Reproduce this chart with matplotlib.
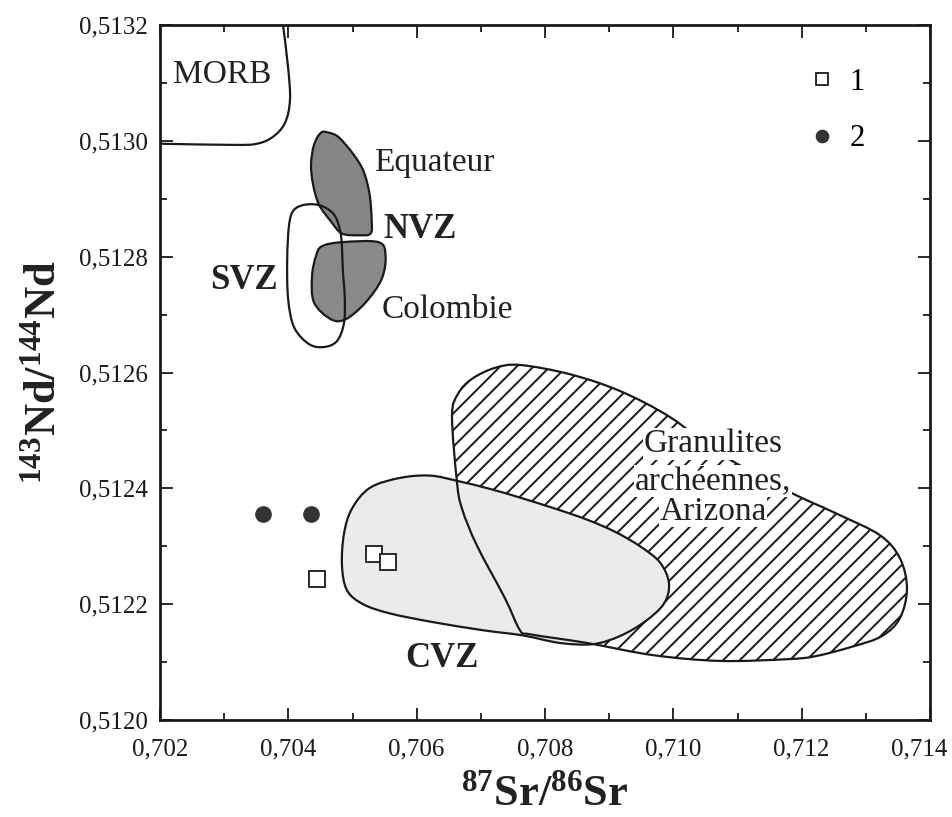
import numpy as np
import matplotlib
matplotlib.use('Agg')
import matplotlib.pyplot as plt
from matplotlib.path import Path
from matplotlib.patches import PathPatch
from matplotlib.ticker import MultipleLocator
from matplotlib.transforms import ScaledTranslation

plt.rcParams['font.family'] = ['Liberation Serif', 'DejaVu Serif']
plt.rcParams['mathtext.fontset'] = 'custom'
plt.rcParams['mathtext.rm'] = 'Liberation Serif'
plt.rcParams['mathtext.bf'] = 'Liberation Serif:bold'
plt.rcParams['hatch.linewidth'] = 1.4

# Champs (contours)
morb_x = [0.703917, 0.703995, 0.704026, 0.703948, 0.703761, 0.703512, 0.703138, 0.702000]
morb_y = [0.513200, 0.513128, 0.513071, 0.513031, 0.513007, 0.512995, 0.512993, 0.512995]

equ_x = [0.704508, 0.704400, 0.704354, 0.704385, 0.704477, 0.704663, 0.704834, 0.705097,
         0.705283, 0.705298, 0.705267, 0.705174, 0.705019, 0.704787, 0.704632]
equ_y = [0.513014, 0.512993, 0.512959, 0.512925, 0.512890, 0.512861, 0.512840, 0.512837,
         0.512840, 0.512864, 0.512907, 0.512947, 0.512976, 0.513006, 0.513014]

col_x = [0.704524, 0.704834, 0.705406, 0.705515, 0.705453, 0.705205, 0.704896, 0.704663,
         0.704400, 0.704369, 0.704431]
col_y = [0.512818, 0.512825, 0.512825, 0.512801, 0.512761, 0.512721, 0.512692, 0.512692,
         0.512721, 0.512766, 0.512801]

svz_x = [0.704276, 0.704090, 0.704013, 0.703982, 0.703997, 0.704090, 0.704323, 0.704555,
         0.704756, 0.704865, 0.704880, 0.704849, 0.704834, 0.704803, 0.704710, 0.704508]
svz_y = [0.512890, 0.512881, 0.512856, 0.512795, 0.512727, 0.512678, 0.512649, 0.512644,
         0.512654, 0.512684, 0.512727, 0.512778, 0.512821, 0.512847, 0.512873, 0.512888]

cvz_x = [0.705740, 0.706208, 0.706628, 0.707143, 0.707610, 0.708156, 0.708654, 0.709091,
         0.709480, 0.709792, 0.709932, 0.709854, 0.709558, 0.709169, 0.708748, 0.708234,
         0.707657, 0.707034, 0.706254, 0.705584, 0.705164, 0.704914, 0.704836, 0.704868,
         0.704992, 0.705273]
cvz_y = [0.512418, 0.512422, 0.512413, 0.512399, 0.512384, 0.512365, 0.512346, 0.512325,
         0.512300, 0.512272, 0.512236, 0.512201, 0.512170, 0.512145, 0.512131, 0.512133,
         0.512146, 0.512155, 0.512169, 0.512184, 0.512200, 0.512224, 0.512267, 0.512322,
         0.512365, 0.512401]

gra_x = [0.706551, 0.706644, 0.706862, 0.707221, 0.707610, 0.708389, 0.709169, 0.709948,
         0.710727, 0.711771, 0.712550, 0.713221, 0.713532, 0.713641, 0.713532, 0.713252,
         0.712800, 0.712208, 0.711771, 0.710727, 0.709683, 0.708654, 0.707766, 0.707610,
         0.707377, 0.706940, 0.706706, 0.706628]
gra_y = [0.512525, 0.512563, 0.512589, 0.512608, 0.512613, 0.512597, 0.512568, 0.512523,
         0.512460, 0.512396, 0.512356, 0.512319, 0.512279, 0.512227, 0.512176, 0.512145,
         0.512127, 0.512110, 0.512105, 0.512102, 0.512112, 0.512133, 0.512148, 0.512155,
         0.512210, 0.512301, 0.512365, 0.512411]

# Echantillons
sr_1 = [0.705335, 0.705553, 0.704447]
nd_1 = [0.512286, 0.512272, 0.512244]
sr_2 = [0.703605, 0.704353]
nd_2 = [0.512356, 0.512356]

x_ticks = [0.702, 0.704, 0.706, 0.708, 0.710, 0.712, 0.714]
y_ticks = [0.5120, 0.5122, 0.5124, 0.5126, 0.5128, 0.5130, 0.5132]


def lisse(xs, ys, ferme=True):
    # courbe de Catmull-Rom passee en Bezier cubiques
    p = np.column_stack([xs, ys])
    n = len(p)
    verts = [p[0]]
    codes = [Path.MOVETO]
    for i in (range(n) if ferme else range(n - 1)):
        p0 = p[(i - 1) % n] if (ferme or i > 0) else p[0]
        p1 = p[i]
        p2 = p[(i + 1) % n]
        p3 = p[(i + 2) % n] if (ferme or i + 2 < n) else p[-1]
        verts += [p1 + (p2 - p0) / 6, p2 - (p3 - p1) / 6, p2]
        codes += [Path.CURVE4] * 3
    if ferme:
        verts.append(p[0])
        codes.append(Path.CLOSEPOLY)
    return Path(verts, codes)


fig = plt.figure(figsize=(9.53, 8.17), dpi=100)
ax = fig.add_axes([160 / 953, 97 / 817, 770 / 953, 695 / 817])

lw = 1.6
noir = '#1a1a1a'
ax.add_patch(PathPatch(lisse(gra_x, gra_y), facecolor='white', edgecolor=noir,
                       hatch='//', linewidth=0, zorder=1))
ax.add_patch(PathPatch(lisse(cvz_x, cvz_y), facecolor='#ebebeb', edgecolor=noir,
                       linewidth=lw, zorder=2))
ax.add_patch(PathPatch(lisse(gra_x, gra_y), facecolor='none', edgecolor=noir,
                       linewidth=lw, zorder=3))
ax.add_patch(PathPatch(lisse(equ_x, equ_y), facecolor='#858585', edgecolor=noir,
                       linewidth=lw, zorder=2))
ax.add_patch(PathPatch(lisse(col_x, col_y), facecolor='#8a8a8a', edgecolor=noir,
                       linewidth=lw, zorder=2))
ax.add_patch(PathPatch(lisse(svz_x, svz_y), facecolor='none', edgecolor=noir,
                       linewidth=lw, zorder=3))
ax.add_patch(PathPatch(lisse(morb_x, morb_y, ferme=False), facecolor='none',
                       edgecolor=noir, linewidth=lw, zorder=3))

ax.plot(sr_1, nd_1, linestyle='none', marker='s', markersize=11, markerfacecolor='white',
        markeredgecolor=noir, markeredgewidth=1.3, zorder=5, label='1')
ax.plot(sr_2, nd_2, linestyle='none', marker='o', markersize=11, markerfacecolor='#333333',
        markeredgecolor='#333333', zorder=5, label='2')

ax.legend(loc='upper right', bbox_to_anchor=(0.951, 0.978), frameon=False,
          fontsize=22, labelspacing=0.9, handletextpad=0.4, handlelength=1.0,
          markerscale=0.8)

txt = dict(fontsize=24, color='#222222', zorder=6)
txtb = dict(fontsize=25, color='#222222', zorder=6, fontweight='bold')
ax.text(0.702966, 0.513114, 'MORB', ha='center', va='center', **txt)
ax.text(0.705335, 0.512962, 'Equateur', ha='left', va='center', **txt)
ax.text(0.705475, 0.512847, 'NVZ', ha='left', va='center', **txtb)
ax.text(0.703309, 0.512759, 'SVZ', ha='center', va='center', **txtb)
ax.text(0.705460, 0.512709, 'Colombie', ha='left', va='center', **txt)
ax.text(0.706395, 0.512107, 'CVZ', ha='center', va='center', **txtb)
fond = dict(facecolor='white', edgecolor='none', pad=0.5)
ax.text(0.710618, 0.512477, 'Granulites', ha='center', va='center', bbox=fond, **txt)
ax.text(0.710618, 0.512413, 'archéennes,', ha='center', va='center', bbox=fond, **txt)
ax.text(0.710618, 0.512360, 'Arizona', ha='center', va='center', bbox=fond, **txt)

ax.set_xlim(0.702, 0.714)
ax.set_ylim(0.5120, 0.5132)
ax.set_xticks(x_ticks)
ax.set_yticks(y_ticks)
ax.set_xticklabels([('%.3f' % v).replace('.', ',') for v in x_ticks])
ax.set_yticklabels([('%.4f' % v).replace('.', ',') for v in y_ticks])
ax.xaxis.set_minor_locator(MultipleLocator(0.001))
ax.yaxis.set_minor_locator(MultipleLocator(0.0001))
ax.tick_params(which='both', direction='in', top=True, right=True, width=1.3,
               colors=noir, labelsize=18)
ax.tick_params(which='major', length=9)
ax.tick_params(which='minor', length=5)
ax.tick_params(axis='x', pad=13)
ax.tick_params(axis='y', pad=9)
for s in ax.spines.values():
    s.set_linewidth(2.0)
    s.set_color(noir)

# le dernier libelle (0,714) est decale pour rester dans la figure
dernier = ax.xaxis.get_major_ticks()[-1].label1
dernier.set_transform(dernier.get_transform() + ScaledTranslation(-0.11, 0, fig.dpi_scale_trans))

ax.set_xlabel(r'$\mathbf{^{87}Sr/^{86}Sr}$', fontsize=32, color='#222222', labelpad=10)
ax.set_ylabel(r'$\mathbf{^{143}Nd/^{144}Nd}$', fontsize=32, color='#222222', labelpad=10)

fig.savefig('out.png', dpi=100)
